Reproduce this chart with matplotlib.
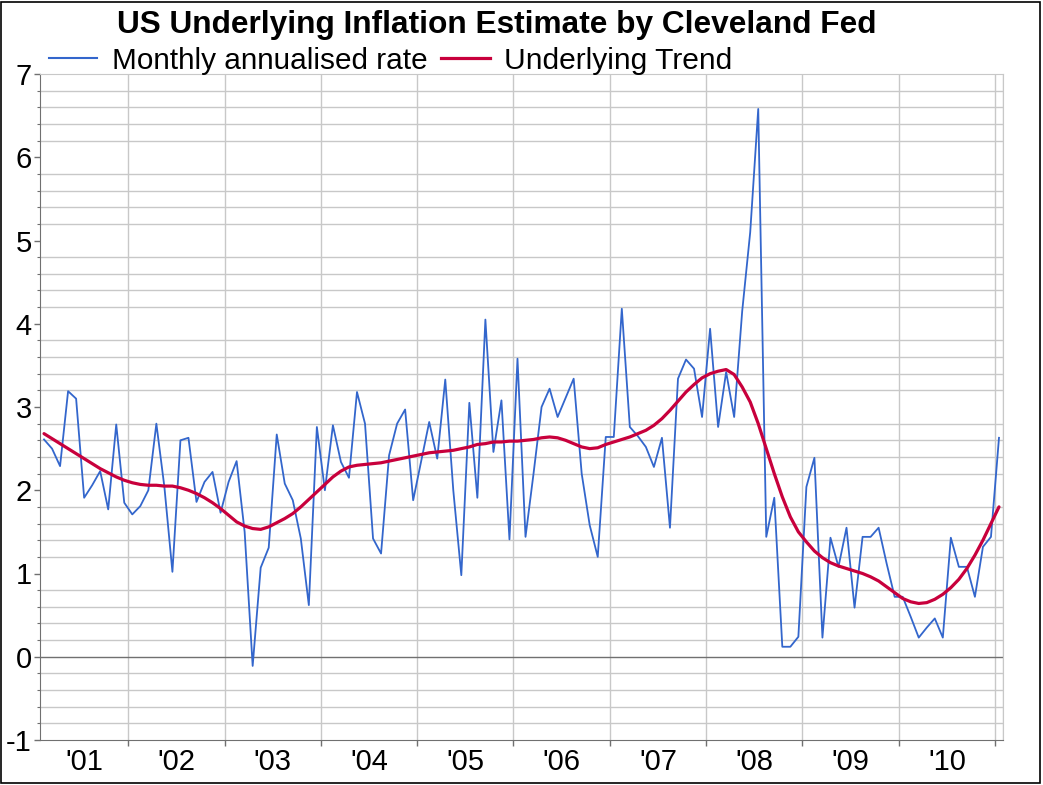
import numpy as np
import matplotlib
matplotlib.use("Agg")
import matplotlib.pyplot as plt
from matplotlib.lines import Line2D
from matplotlib.patches import Rectangle

plt.rcParams['font.family'] = ['Liberation Sans', 'DejaVu Sans']

W, H = 1043, 785
BLUE = '#3366CC'
RED = '#C8003C'
GRID = '#C8C8C8'
AXIS = '#707070'

# monthly annualised rate, Feb 2001 .. Jan 2011
monthly = [
    2.61, 2.50, 2.29, 3.19, 3.10, 1.91, 2.06, 2.23, 1.77, 2.79, 1.85,          # 2001 (Feb-Dec)
    1.71, 1.81, 2.00, 2.80, 2.04, 1.02, 2.60, 2.63, 1.86, 2.10, 2.22, 1.73,    # 2002
    2.10, 2.35, 1.50, -0.11, 1.07, 1.31, 2.67, 2.08, 1.88, 1.42, 0.62, 2.76,   # 2003
    2.00, 2.78, 2.34, 2.15, 3.18, 2.80, 1.42, 1.24, 2.42, 2.80, 2.97, 1.88,    # 2004
    2.35, 2.82, 2.38, 3.33, 2.00, 0.98, 3.05, 1.91, 4.05, 2.46, 3.08, 1.41,    # 2005
    3.58, 1.44, 2.20, 3.00, 3.22, 2.88, 3.11, 3.34, 2.20, 1.58, 1.20, 2.64,    # 2006
    2.64, 4.18, 2.76, 2.65, 2.52, 2.28, 2.63, 1.55, 3.34, 3.57, 3.46, 2.88,    # 2007
    3.94, 2.76, 3.42, 2.88, 4.15, 5.10, 6.58, 1.44, 1.91, 0.12, 0.12, 0.24,    # 2008
    2.04, 2.39, 0.23, 1.43, 1.08, 1.55, 0.59, 1.44, 1.44, 1.55, 1.12, 0.72,    # 2009
    0.72, 0.48, 0.23, 0.35, 0.46, 0.23, 1.43, 1.08, 1.08, 0.72, 1.32, 1.44,    # 2010
    2.63,                                                                      # 2011 (Jan)
]

trend = [
    2.68, 2.62, 2.56, 2.50, 2.44, 2.38, 2.32, 2.26, 2.21, 2.16, 2.12,
    2.09, 2.07, 2.06, 2.06, 2.05, 2.05, 2.03, 2.00, 1.96, 1.91, 1.85, 1.78,
    1.70, 1.62, 1.57, 1.54, 1.53, 1.56, 1.61, 1.66, 1.72, 1.80, 1.89, 1.98,
    2.07, 2.16, 2.23, 2.28, 2.30, 2.31, 2.32, 2.33, 2.35, 2.37, 2.39, 2.41,
    2.43, 2.45, 2.46, 2.47, 2.48, 2.50, 2.52, 2.55, 2.56, 2.58, 2.58, 2.59,
    2.59, 2.60, 2.61, 2.63, 2.64, 2.63, 2.60, 2.56, 2.52, 2.50, 2.51, 2.55,
    2.58, 2.61, 2.64, 2.68, 2.72, 2.78, 2.86, 2.96, 3.07, 3.18, 3.27, 3.35,
    3.40, 3.43, 3.45, 3.39, 3.24, 3.06, 2.80, 2.50, 2.20, 1.92, 1.68, 1.50,
    1.38, 1.27, 1.19, 1.13, 1.09, 1.06, 1.03, 1.00, 0.96, 0.91, 0.84, 0.77,
    0.70, 0.66, 0.64, 0.65, 0.69, 0.75, 0.83, 0.93, 1.06, 1.22, 1.40, 1.60,
    1.80,
]

year_labels = ["'01", "'02", "'03", "'04", "'05", "'06", "'07", "'08", "'09", "'10"]
first_jan = 11  # index of Jan 2002 in the monthly series

n = len(monthly)
x = np.arange(n) + 0.5

fig = plt.figure(figsize=(W / 100, H / 100), dpi=100)
ax = fig.add_axes([40 / W, 1 - 740 / H, 963 / W, 666 / H])

ax.plot(x, monthly, color=BLUE, lw=1.3, zorder=3)
ax.plot(x, trend, color=RED, lw=2.3, zorder=4, solid_capstyle='round')

ax.set_xlim(0, n)
ax.set_ylim(-1, 7)

# year boundaries and labels
bounds = [first_jan + 12 * k for k in range(len(year_labels))]
ax.set_xticks(bounds)
ax.set_xticklabels([])
edges = [0] + bounds
mids = [(edges[k] + edges[k + 1]) / 2 for k in range(len(year_labels))]
ax.set_xticks(mids, minor=True)
ax.set_xticklabels(year_labels, minor=True)
ax.tick_params(axis='x', which='minor', length=0, pad=6, labelsize=21)
ax.tick_params(axis='x', which='major', length=4, color=AXIS, width=1)

ax.set_yticks(range(-1, 8))
ax.set_yticklabels([str(v) for v in range(-1, 8)])
ax.set_yticks(np.arange(-1, 7.01, 0.2), minor=True)
ax.tick_params(axis='y', which='major', length=4, color=AXIS, width=1, labelsize=21, pad=2)
ax.tick_params(axis='y', which='minor', length=2.5, color=AXIS, width=0.8)

ax.grid(True, axis='x', which='major', color=GRID, lw=1)
ax.grid(True, axis='y', which='minor', color=GRID, lw=1)
ax.axvline(n, color=GRID, lw=1)
ax.axhline(0, color=AXIS, lw=1, zorder=2)
ax.set_axisbelow(True)

for side in ('left', 'bottom'):
    ax.spines[side].set_color(AXIS)
for side in ('top', 'right'):
    ax.spines[side].set_color(GRID)

# title and legend above the plot
fig.text(497 / W, 1 - 32.5 / H, "US Underlying Inflation Estimate by Cleveland Fed",
         ha='center', va='baseline', fontsize=22.8, fontweight='bold')
fig.add_artist(Line2D([49 / W, 97 / W], [1 - 58 / H, 1 - 58 / H], color=BLUE, lw=1.5))
fig.text(112 / W, 1 - 69 / H, "Monthly annualised rate", ha='left', va='baseline', fontsize=21.4)
fig.add_artist(Line2D([441 / W, 490 / W], [1 - 58 / H, 1 - 58 / H], color=RED, lw=2.3))
fig.text(504 / W, 1 - 69 / H, "Underlying Trend", ha='left', va='baseline', fontsize=21.6)

fig.add_artist(Rectangle((1 / W, 2 / H), 1039 / W, 781 / H, transform=fig.transFigure,
                         fill=False, edgecolor='black', lw=1.2))

fig.savefig("out.png", dpi=100)
